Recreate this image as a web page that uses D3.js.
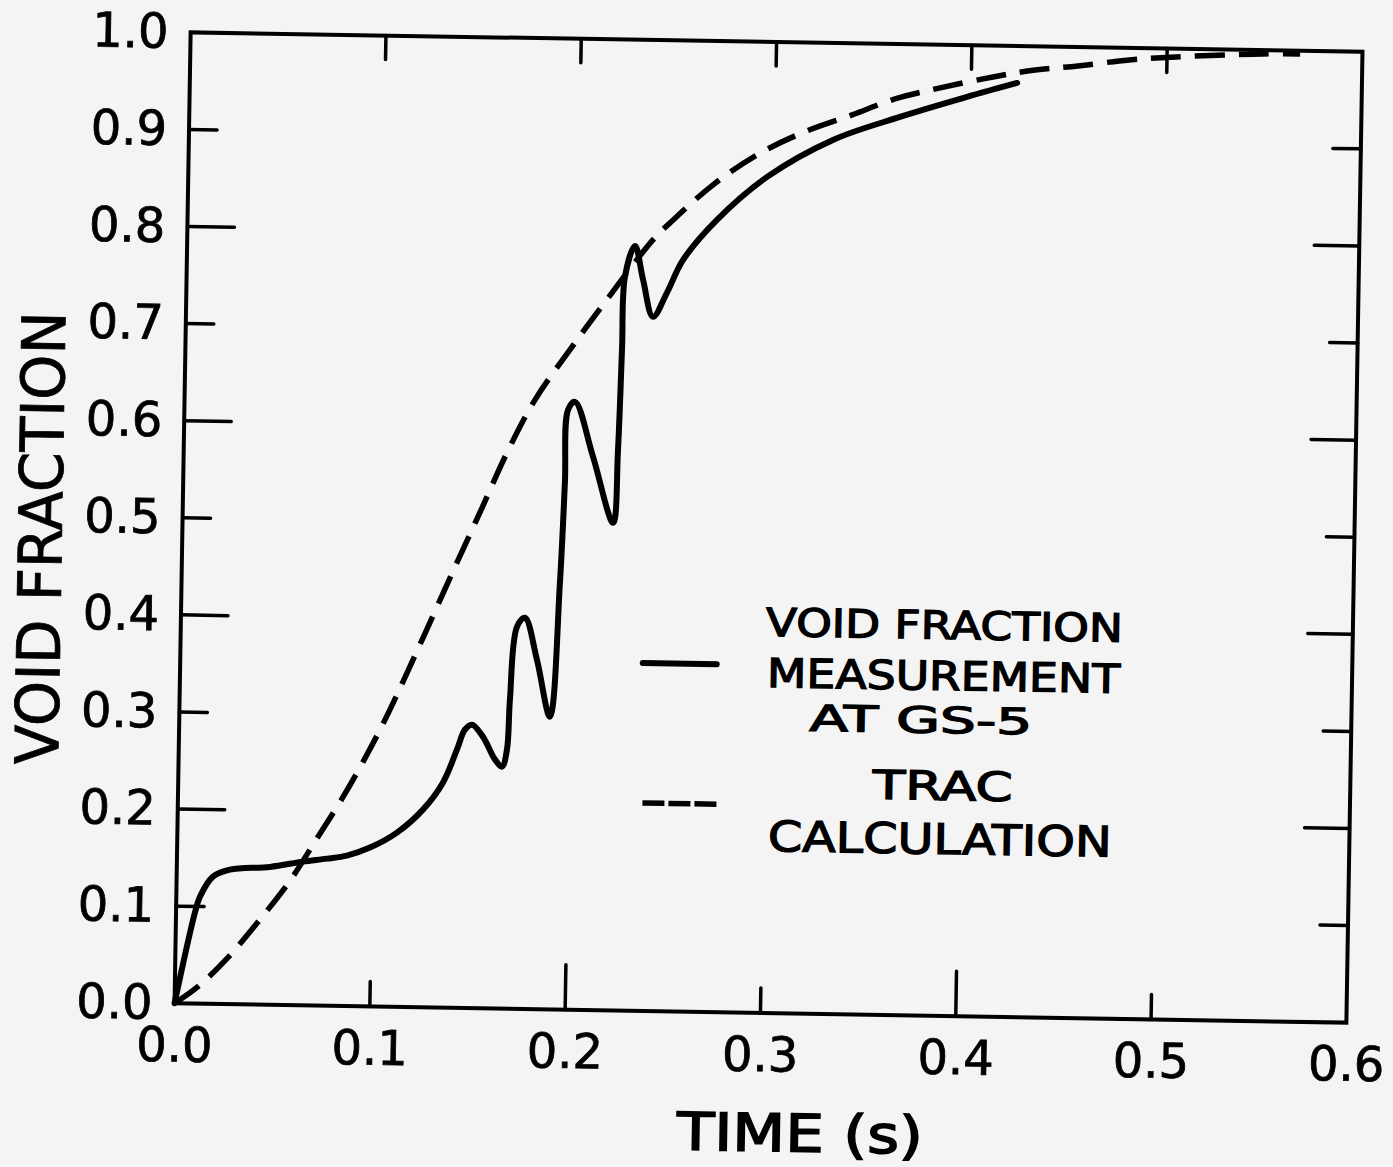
<!DOCTYPE html>
<html><head><meta charset="utf-8">
<script src="https://cdn.jsdelivr.net/npm/d3@7"></script>
<style>html,body{margin:0;padding:0;background:#f4f4f4;} svg{display:block;}</style>
</head><body><svg id="c" width="1393" height="1167"></svg>
<script>
// ---- data ----
const measTime = [0, 0.0097, 0.0121, 0.0186, 0.0272, 0.0477, 0.0645, 0.0768, 0.087, 0.0987, 0.1124, 0.1255, 0.1355, 0.1424, 0.1463, 0.1499, 0.1556, 0.162, 0.1656, 0.168, 0.1691, 0.1721, 0.1761, 0.1826, 0.1897, 0.1937, 0.1954, 0.1964, 0.1999, 0.2096, 0.2204, 0.2223, 0.2235, 0.2244, 0.2293, 0.2337, 0.2391, 0.246, 0.254, 0.271, 0.2963, 0.3297, 0.3638, 0.398, 0.4235];
const measVoid = [0, 0.094, 0.110, 0.131, 0.1385, 0.142, 0.148, 0.1515, 0.155, 0.1636, 0.1795, 0.2036, 0.2317, 0.2659, 0.2866, 0.2919, 0.2797, 0.2563, 0.2492, 0.2668, 0.3183, 0.3935, 0.4029, 0.3599, 0.3015, 0.4396, 0.5426, 0.6178, 0.6261, 0.5698, 0.5022, 0.5775, 0.6805, 0.7557, 0.7877, 0.7529, 0.715, 0.7399, 0.7741, 0.8159, 0.861, 0.9002, 0.925, 0.9468, 0.962];
const tracTime = [0, 0.0118, 0.0269, 0.043, 0.0581, 0.0705, 0.084, 0.0969, 0.1073, 0.1408, 0.1532, 0.1655, 0.1794, 0.1979, 0.2134, 0.2384, 0.247, 0.2687, 0.291, 0.3138, 0.3393, 0.3611, 0.3841, 0.4111, 0.4326, 0.4545, 0.4806, 0.5046, 0.5492, 0.5681];
const tracVoid = [0, 0.0175, 0.0479, 0.0876, 0.1282, 0.1688, 0.2135, 0.2613, 0.3039, 0.4584, 0.5154, 0.5725, 0.6275, 0.6827, 0.7265, 0.7942, 0.812, 0.8519, 0.8835, 0.9069, 0.9263, 0.9435, 0.9556, 0.9678, 0.9757, 0.9806, 0.9876, 0.9915, 0.9961, 0.9967];
const xTicks = [0, 0.1, 0.2, 0.3, 0.4, 0.5, 0.6];
const yTicks = [0, 0.1, 0.2, 0.3, 0.4, 0.5, 0.6, 0.7, 0.8, 0.9, 1.0];
const legendMeas = ["VOID FRACTION", "MEASUREMENT", "AT GS-5"];
const legendTrac = ["TRAC", "CALCULATION"];
const xTitle = "TIME (s)";
const yTitle = "VOID FRACTION";

// ---- layout ----
const W = 1393, H = 1167;
const plot = {left: 182.5, top: 42, width: 1172, height: 971};
const FONT = "'DejaVu Sans', 'Liberation Sans', sans-serif";
const svg = d3.select('#c');
svg.append('rect').attr('width', W).attr('height', H).attr('fill', '#f4f4f4');
const g = svg.append('g').attr('transform', 'rotate(0.95,768.5,527.75)');

const x = d3.scaleLinear().domain([0, 0.6]).range([plot.left, plot.left + plot.width]);
const y = d3.scaleLinear().domain([0, 1]).range([plot.top + plot.height, plot.top]);
const fmt = d3.format('.1f');
const tenth = d => Math.round(d * 10);

// axes labels
const xAx = g.append('g').attr('transform', `translate(0,${y(0)})`)
  .call(d3.axisBottom(x).tickValues(xTicks).tickFormat(fmt).tickSize(0).tickPadding(24));
const yAx = g.append('g').attr('transform', `translate(${x(0)},0)`)
  .call(d3.axisLeft(y).tickValues(yTicks).tickFormat(fmt).tickSize(0).tickPadding(22));
[xAx, yAx].forEach(a => {
  a.select('.domain').remove();
  a.selectAll('text').attr('font-family', FONT).attr('font-size', 48)
    .attr('fill', '#000').attr('stroke', '#000').attr('stroke-width', 0.8);
});

// frame
g.append('rect').attr('x', x(0)).attr('y', y(1)).attr('width', x(0.6) - x(0)).attr('height', y(0) - y(1))
  .attr('fill', 'none').attr('stroke', '#000').attr('stroke-width', 4);

// inward ticks
const inner = xTicks.filter(d => d > 0 && d < 0.6);
const yin = yTicks.filter(d => d > 0 && d < 1);
const tk = g.append('g').attr('stroke', '#000').attr('stroke-width', 3.5).attr('stroke-linecap', 'round');
tk.selectAll('.bt').data(inner).join('line')
  .attr('x1', d => x(d)).attr('x2', d => x(d))
  .attr('y1', y(0)).attr('y2', d => y(0) - (tenth(d) % 2 ? 25 : 45));
tk.selectAll('.tt').data(inner).join('line').attr('class', 'tt')
  .attr('x1', d => x(d)).attr('x2', d => x(d))
  .attr('y1', y(1)).attr('y2', y(1) + 24);
tk.selectAll('.lt').data(yin).join('line').attr('class', 'lt')
  .attr('x1', x(0)).attr('x2', d => x(0) + (tenth(d) % 2 ? 28 : 47))
  .attr('y1', d => y(d)).attr('y2', d => y(d));
tk.selectAll('.rt').data(yin).join('line').attr('class', 'rt')
  .attr('x1', x(0.6)).attr('x2', d => x(0.6) - (tenth(d) % 2 ? 28 : 45))
  .attr('y1', d => y(d)).attr('y2', d => y(d));

// curves
const line = d3.line().x(d => x(d[0])).y(d => y(d[1])).curve(d3.curveCatmullRom.alpha(0.5));
const meas = measTime.map((t, i) => [t, measVoid[i]]);
const trac = tracTime.map((t, i) => [t, tracVoid[i]]);
g.append('path').attr('d', line(trac)).attr('fill', 'none').attr('stroke', '#000')
  .attr('stroke-width', 5.5).attr('stroke-dasharray', '30,14');
g.append('path').attr('d', line(meas)).attr('fill', 'none').attr('stroke', '#000')
  .attr('stroke-width', 6).attr('stroke-linejoin', 'round').attr('stroke-linecap', 'round');

// legend
g.append('line').attr('x1', 645).attr('x2', 719).attr('y1', 665).attr('y2', 665)
  .attr('stroke', '#000').attr('stroke-width', 6).attr('stroke-linecap', 'round');
g.append('line').attr('x1', 647).attr('x2', 721).attr('y1', 805).attr('y2', 805)
  .attr('stroke', '#000').attr('stroke-width', 5.5).attr('stroke-dasharray', '22,4');
const legSpec = [
  {t: legendMeas[0], cx: 946, by: 636, len: 357, fs: 39},
  {t: legendMeas[1], cx: 946, by: 687, len: 353, fs: 40},
  {t: legendMeas[2], cx: 924, by: 730, len: 223, fs: 36},
  {t: legendTrac[0], cx: 947, by: 797, len: 140, fs: 40},
  {t: legendTrac[1], cx: 945, by: 851, len: 344, fs: 42}
];
g.selectAll('.leg').data(legSpec).join('text').attr('class', 'leg')
  .attr('x', d => d.cx).attr('y', d => d.by).attr('text-anchor', 'middle')
  .attr('font-family', FONT).attr('font-size', d => d.fs)
  .attr('textLength', d => d.len).attr('lengthAdjust', 'spacingAndGlyphs')
  .attr('fill', '#000').attr('stroke', '#000').attr('stroke-width', 1.3)
  .text(d => d.t);

// axis titles
g.append('text').attr('x', 810).attr('y', 1151).attr('text-anchor', 'middle')
  .attr('font-family', FONT).attr('font-size', 52)
  .attr('textLength', 246).attr('lengthAdjust', 'spacingAndGlyphs')
  .attr('fill', '#000').attr('stroke', '#000').attr('stroke-width', 1.6).text(xTitle);
g.append('text').attr('transform', 'translate(62,550) rotate(-90)').attr('text-anchor', 'middle')
  .attr('font-family', FONT).attr('font-size', 60)
  .attr('textLength', 453).attr('lengthAdjust', 'spacingAndGlyphs')
  .attr('fill', '#000').attr('stroke', '#000').attr('stroke-width', 0.8).text(yTitle);
</script>
</body></html>
